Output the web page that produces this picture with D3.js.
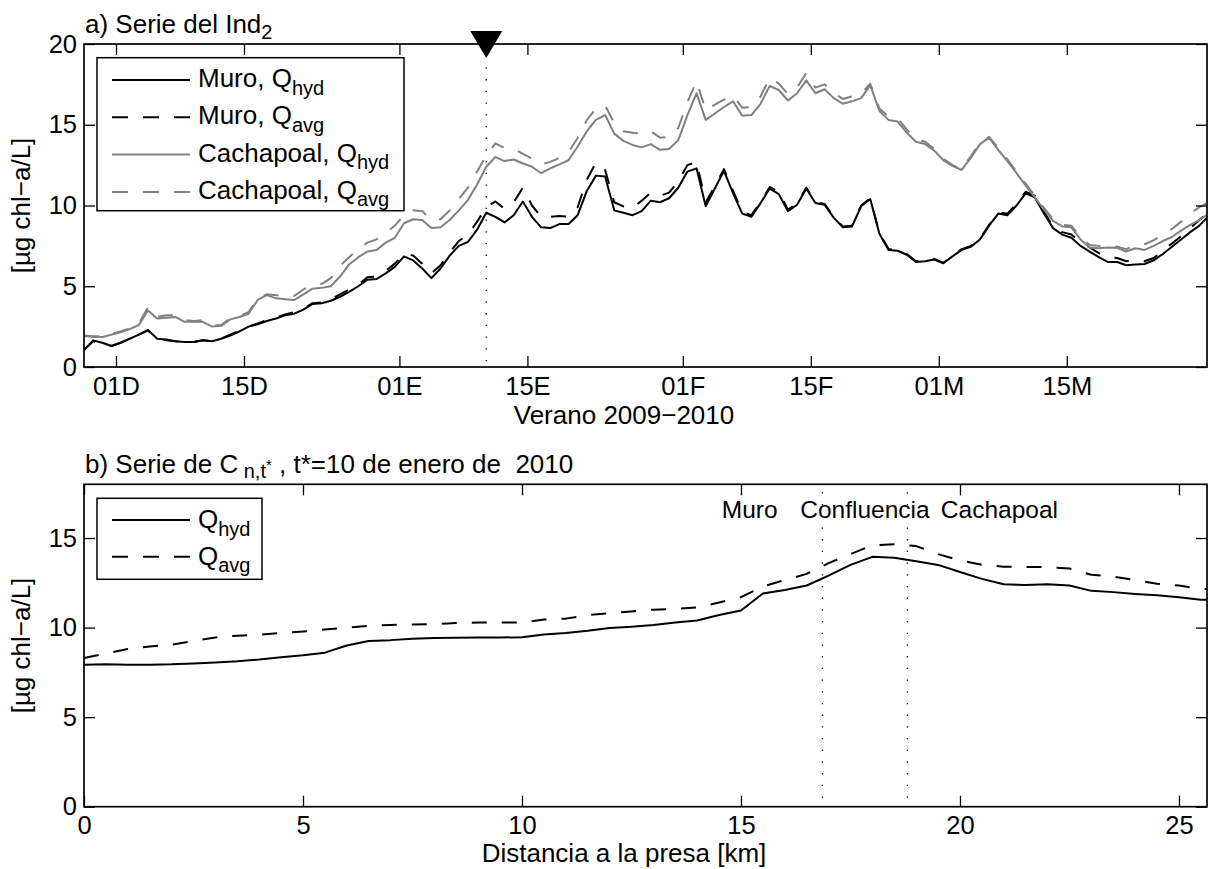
<!DOCTYPE html>
<html><head><meta charset="utf-8">
<script src="https://cdn.jsdelivr.net/npm/d3@7"></script>
<style>
body{margin:0;background:#fff}
svg{display:block}
text{font-family:"Liberation Sans",Arial,Helvetica,sans-serif;fill:#000}
</style></head><body>
<svg id="chart" width="1210" height="869"></svg>
<script>
// ---------------- DATA ----------------
// Panel a: daily series, first value at 27 Nov 2009 12:00 (UTC), one value per day
const seriesStart = Date.UTC(2009, 10, 27, 12);
const muroHyd = [1.05,1.65,1.5,1.3,1.5,1.75,2.0,2.3,1.75,1.7,1.6,1.55,1.55,1.65,1.6,1.75,1.95,2.2,2.5,2.65,2.85,3.0,3.2,3.3,3.55,3.9,3.95,4.1,4.35,4.65,5.0,5.4,5.45,5.8,6.2,
  6.85,6.6,6.1,5.5,6.1,6.9,7.5,7.75,8.5,9.55,9.3,8.95,9.4,10.25,9.3,8.65,8.6,8.85,8.85,9.4,10.9,11.85,11.8,9.7,9.55,9.4,9.65,10.3,10.2,10.45,11.1,12.1,12.3,9.95,11.05,12.15,10.75,9.5,9.3,10.15,11.05,10.7,9.65,10.05,11.05,10.15,10.05,9.25,8.65,8.7,9.95,10.4,8.25,7.25,7.2,6.95,6.5,6.55,6.65,6.42,6.85,7.25,7.45,7.9,8.75,9.5,9.4,10.0,10.75,10.5,9.5,8.6,8.2,8.0,7.5,7.15,6.8,6.5,6.5,6.3,6.35,6.38,6.6,7.0,7.45,7.9,8.35,8.75,9.35];
const muroAvg = [1.05,1.6,1.45,1.3,1.5,1.75,2.0,2.25,1.75,1.65,1.6,1.55,1.55,1.65,1.6,1.75,2.0,2.25,2.5,2.7,2.9,3.05,3.25,3.4,3.6,3.95,4.0,4.2,4.5,4.8,5.1,5.55,5.6,5.95,6.4,
  7.0,6.9,6.4,5.8,6.3,7.1,7.8,8.2,9.0,9.9,10.25,9.8,10.2,11.1,10.0,9.3,9.3,9.35,9.3,9.9,11.6,12.65,12.2,10.2,9.95,9.85,10.3,10.8,10.6,10.8,11.5,12.5,12.7,10.2,11.2,12.25,10.9,9.6,9.4,10.2,11.15,10.85,9.75,10.1,11.1,10.2,10.1,9.3,8.7,8.75,10.0,10.45,8.3,7.3,7.25,7.0,6.55,6.6,6.7,6.45,6.9,7.3,7.5,7.95,8.8,9.55,9.5,10.1,10.85,10.6,9.6,8.7,8.35,8.2,7.75,7.4,7.05,6.8,6.75,6.55,6.6,6.55,6.75,7.2,7.65,8.1,8.6,9.1,9.6];
const cachHyd = [1.92,1.86,1.86,2.0,2.15,2.35,2.6,3.5,3.0,3.05,
  3.1,2.8,2.8,2.8,
  2.5,2.55,2.95,3.1,3.3,
  4.15,4.45,4.25,4.2,4.15,
  4.5,4.85,4.9,5.0,5.6,
  6.35,6.8,7.15,7.25,7.7,
  8.0,8.9,9.15,9.1,8.6,
  8.65,9.1,9.7,10.35,11.3,
  12.4,13.0,12.75,12.85,12.6,
  12.4,12.0,12.3,12.55,12.8,
  13.65,14.6,15.3,15.6,14.45,
  14.0,13.75,13.6,13.8,13.45,
  13.5,14.05,15.6,16.95,15.3,
  15.7,16.1,16.45,15.55,15.6,
  16.3,17.4,17.15,16.5,16.95,
  17.75,16.95,17.2,16.65,16.3,
  16.45,16.65,17.45,15.85,15.3,
  15.2,14.5,13.95,13.8,13.4,
  12.8,12.45,12.2,12.95,13.8,
  14.2,13.45,12.75,12.0,11.25,
  10.5,9.75,9.05,8.7,8.65,
  7.9,7.4,7.35,7.4,7.38,
  7.15,7.35,7.25,7.5,7.8,
  8.05,8.45,8.8,9.1,9.5];
const cachAvg = [1.95,1.9,1.9,2.05,2.2,2.4,2.7,3.7,3.1,3.2,
  3.2,2.9,2.85,2.9,
  2.55,2.6,3.0,3.15,3.4,
  4.25,4.5,4.45,4.45,4.4,
  4.8,5.1,5.15,5.5,6.25,
  6.8,7.3,7.7,7.9,8.3,
  8.75,9.4,9.7,9.65,9.1,
  9.15,9.7,10.4,11.1,12.1,
  13.1,13.85,13.55,13.5,13.2,
  12.9,12.55,12.7,12.95,13.3,
  14.2,15.3,16.0,16.2,15.1,
  14.6,14.5,14.45,14.6,14.2,
  14.25,14.8,16.4,17.7,15.9,
  16.25,16.55,16.8,16.05,16.1,
  16.75,17.9,17.55,16.9,17.3,
  18.2,17.3,17.5,16.95,16.6,
  16.75,16.9,17.55,16.0,15.5,
  15.4,14.7,14.1,13.95,13.5,
  12.9,12.5,12.25,13.05,13.9,
  14.25,13.55,12.85,12.1,11.35,
  10.6,9.85,9.15,8.8,8.75,
  8.05,7.55,7.5,7.5,7.45,
  7.3,7.55,7.6,7.85,8.2,
  8.55,9.0,9.5,9.9,10.2];
const timeTickDates = ["2009-12-01","2009-12-15","2010-01-01","2010-01-15","2010-02-01","2010-02-15","2010-03-01","2010-03-15"];
const timeTickLabels = ["01D","15D","01E","15E","01F","15F","01M","15M"];
const tStar = "2010-01-10T12:00:00Z";
const timeDomain = ["2009-11-27T12:00:00Z","2010-03-30T08:00:00Z"];
const yTicksA = [0,5,10,15,20];
const legendA = [
  {name:"Muro, Q", sub:"hyd"},
  {name:"Muro, Q", sub:"avg"},
  {name:"Cachapoal, Q", sub:"hyd"},
  {name:"Cachapoal, Q", sub:"avg"}
];

// Panel b: profile along the river (km from the dam)
const distStepKm = 0.5;
const distEndKm = 25.64;
const profHyd = [7.92,7.95,7.93,7.93,7.95,8.0,8.05,8.12,8.22,8.35,
  8.45,8.6,9.0,9.25,9.3,9.38,9.42,9.43,9.45,9.45,
  9.46,9.62,9.7,9.82,9.98,10.05,10.15,10.28,10.4,10.7,
  10.95,11.9,12.1,12.35,12.9,13.5,13.95,13.9,13.7,13.5,
  13.1,12.72,12.42,12.38,12.42,12.35,12.05,11.98,11.88,11.8,
  11.7,11.55,11.55];
const profAvg = [8.3,8.55,8.8,8.95,9.05,9.25,9.45,9.55,9.6,9.7,
  9.78,9.9,10.0,10.1,10.15,10.17,10.2,10.25,10.28,10.28,
  10.28,10.45,10.5,10.7,10.8,10.9,11.0,11.05,11.12,11.4,
  11.7,12.3,12.65,13.0,13.6,14.1,14.6,14.65,14.55,14.1,
  13.75,13.5,13.4,13.38,13.38,13.3,12.95,12.85,12.65,12.45,
  12.35,12.15,12.15];
const xTicksB = [0,5,10,15,20,25];
const yTicksB = [0,5,10,15];
const markerKm = [16.86, 18.8];
const placeNames = ["Muro","Confluencia","Cachapoal"];
const placeKm = [15.2, 17.83, 20.9];
const placeLevel = 16.1;
const legendB = [{name:"Q", sub:"hyd"},{name:"Q", sub:"avg"}];

// ---------------- STYLE / LAYOUT ----------------
const FS = 26, TICKFS = 25.5, SUBFS = 20;
const GRAY = "#808080";
const DASH = "15,15";
const DOT = "1.3,10.4";
const XLABEL_CX = 624;
const svg = d3.select("#chart");

const PA = {left:84, top:44, width:1123, height:323};
const PB = {left:84, top:484.3, width:1123, height:322.4};

function drawFrame(p, x, y, xVals, xFmt, yVals) {
  const g = svg.append("g").attr("font-size", TICKFS).attr("font-family", '"Liberation Sans",Arial,sans-serif');
  g.append("g").attr("transform", `translate(0,${p.top + p.height})`)
    .call(d3.axisBottom(x).tickValues(xVals).tickFormat(xFmt).tickSizeInner(-11).tickSizeOuter(0).tickPadding(9.5));
  g.append("g").attr("transform", `translate(0,${p.top})`)
    .call(d3.axisTop(x).tickValues(xVals).tickFormat("").tickSizeInner(-11).tickSizeOuter(0));
  g.append("g").attr("transform", `translate(${p.left},0)`)
    .call(d3.axisLeft(y).tickValues(yVals).tickFormat(d3.format("d")).tickSizeInner(-11).tickSizeOuter(0).tickPadding(7));
  g.append("g").attr("transform", `translate(${p.left + p.width},0)`)
    .call(d3.axisRight(y).tickValues(yVals).tickFormat("").tickSizeInner(-11).tickSizeOuter(0));
  g.selectAll(".domain").remove();
  g.selectAll(".tick line").attr("stroke", "#000").attr("stroke-width", 1.3);
  g.selectAll(".tick text").attr("fill", "#000").attr("font-size", TICKFS);
  g.append("rect").attr("x", p.left).attr("y", p.top).attr("width", p.width).attr("height", p.height)
    .attr("fill", "none").attr("stroke", "#000").attr("stroke-width", 1.7);
}

function clip(id, p) {
  svg.append("clipPath").attr("id", id).append("rect")
    .attr("x", p.left).attr("y", p.top).attr("width", p.width).attr("height", p.height);
}

function subText(sel, x, y, main, sub) {
  const t = sel.append("text").attr("x", x).attr("y", y).attr("font-size", FS).style("white-space", "pre");
  t.append("tspan").text(main);
  t.append("tspan").attr("dy", 7.5).attr("font-size", SUBFS).text(sub);
  return t;
}

function yLabel(p) {
  svg.append("text").attr("transform", `translate(30,${p.top + p.height / 2}) rotate(-90)`)
    .attr("text-anchor", "middle").attr("font-size", FS).text("[µg chl−a/L]");
}

// ---------------- PANEL A ----------------
const xA = d3.scaleUtc().domain(timeDomain.map(d => new Date(d))).range([PA.left, PA.left + PA.width]);
const yA = d3.scaleLinear().domain([0, 20]).range([PA.top + PA.height, PA.top]);
const dayDate = i => new Date(seriesStart + i * 864e5);
clip("clipA", PA);

const lineA = d3.line().x((d, i) => xA(dayDate(i))).y(d => yA(d));
const seriesA = [
  {v: muroHyd, c: "#000", dash: null},
  {v: muroAvg, c: "#000", dash: DASH},
  {v: cachHyd, c: GRAY, dash: null},
  {v: cachAvg, c: GRAY, dash: DASH}
];
const gA = svg.append("g").attr("clip-path", "url(#clipA)");
seriesA.forEach(s => {
  gA.append("path").attr("d", lineA(s.v)).attr("fill", "none").attr("stroke", s.c)
    .attr("stroke-width", 2).attr("stroke-dasharray", s.dash).attr("stroke-linejoin", "round");
});

// t* marker
const xs = xA(new Date(tStar));
svg.append("line").attr("x1", xs).attr("x2", xs).attr("y1", yA(20)).attr("y2", yA(0))
  .attr("stroke", "#000").attr("stroke-width", 1.3).attr("stroke-dasharray", DOT);

drawFrame(PA, xA, yA, timeTickDates.map(d => new Date(d + "T00:00:00Z")), (d, i) => timeTickLabels[i], yTicksA);

const y20 = yA(20);
svg.append("path").attr("d", d3.line()([[xs - 16, y20 - 13], [xs + 16, y20 - 13], [xs, y20 + 14]]) + "Z").attr("fill", "#000");

// legend A
const legGA = svg.append("g");
legGA.append("rect").attr("x", 97).attr("y", 57.7).attr("width", 307).attr("height", 153)
  .attr("fill", "#fff").attr("stroke", "#000").attr("stroke-width", 1.5);
legendA.forEach((L, i) => {
  const cy = 80 + i * 37.3;
  const s = seriesA[i];
  legGA.append("line").attr("x1", 112).attr("x2", 190).attr("y1", cy).attr("y2", cy)
    .attr("stroke", s.c).attr("stroke-width", 2).attr("stroke-dasharray", s.dash ? "16,15" : null);
  subText(legGA, 198, cy + 7, L.name, L.sub);
});

// title & labels A
const tA = svg.append("text").attr("x", 85).attr("y", 33).attr("font-size", FS);
tA.append("tspan").text("a) Serie del Ind");
tA.append("tspan").attr("dy", 6).attr("font-size", SUBFS).text("2");
yLabel(PA);
svg.append("text").attr("x", XLABEL_CX).attr("y", 423.5).attr("text-anchor", "middle")
  .attr("font-size", FS).text("Verano 2009−2010");

// ---------------- PANEL B ----------------
const distKm = d3.range(0, distEndKm, distStepKm).concat([distEndKm]);
const xB = d3.scaleLinear().domain([0, distEndKm]).range([PB.left, PB.left + PB.width]);
const yB = d3.scaleLinear().domain([0, 18]).range([PB.top + PB.height, PB.top]);
clip("clipB", PB);
const lineB = d3.line().x((d, i) => xB(distKm[i])).y(d => yB(d));
const seriesB = [
  {v: profHyd, c: "#000", dash: null},
  {v: profAvg, c: "#000", dash: DASH}
];
markerKm.forEach(k => {
  svg.append("line").attr("x1", xB(k)).attr("x2", xB(k)).attr("y1", yB(18) + 8).attr("y2", yB(0))
    .attr("stroke", "#000").attr("stroke-width", 1.3).attr("stroke-dasharray", DOT);
});
const gB = svg.append("g").attr("clip-path", "url(#clipB)");
seriesB.forEach(s => {
  gB.append("path").attr("d", lineB(s.v)).attr("fill", "none").attr("stroke", s.c)
    .attr("stroke-width", 2).attr("stroke-dasharray", s.dash).attr("stroke-linejoin", "round");
});
drawFrame(PB, xB, yB, xTicksB, d3.format("d"), yTicksB);

placeNames.forEach((n, i) => {
  svg.append("text").attr("x", xB(placeKm[i])).attr("y", yB(placeLevel)).attr("text-anchor", "middle")
    .attr("font-size", 24.5).text(n);
});

const legGB = svg.append("g");
legGB.append("rect").attr("x", 97).attr("y", 498.3).attr("width", 165).attr("height", 81)
  .attr("fill", "#fff").attr("stroke", "#000").attr("stroke-width", 1.5);
legendB.forEach((L, i) => {
  const cy = 520 + i * 36.7;
  const s = seriesB[i];
  legGB.append("line").attr("x1", 112).attr("x2", 190).attr("y1", cy).attr("y2", cy)
    .attr("stroke", s.c).attr("stroke-width", 2).attr("stroke-dasharray", s.dash ? "16,15" : null);
  subText(legGB, 198, cy + 8, L.name, L.sub);
});

const tB = svg.append("text").attr("x", 85).attr("y", 473).attr("font-size", FS).style("white-space", "pre");
tB.append("tspan").text("b) Serie de C");
tB.append("tspan").attr("dy", 5).attr("font-size", SUBFS).text(" n,t");
tB.append("tspan").attr("dy", -8).attr("font-size", 15).text("*");
tB.append("tspan").attr("dy", 3).text(" , t*=10 de enero de  2010");
yLabel(PB);
svg.append("text").attr("x", XLABEL_CX).attr("y", 862).attr("text-anchor", "middle")
  .attr("font-size", FS).text("Distancia a la presa [km]");
</script>
</body></html>
